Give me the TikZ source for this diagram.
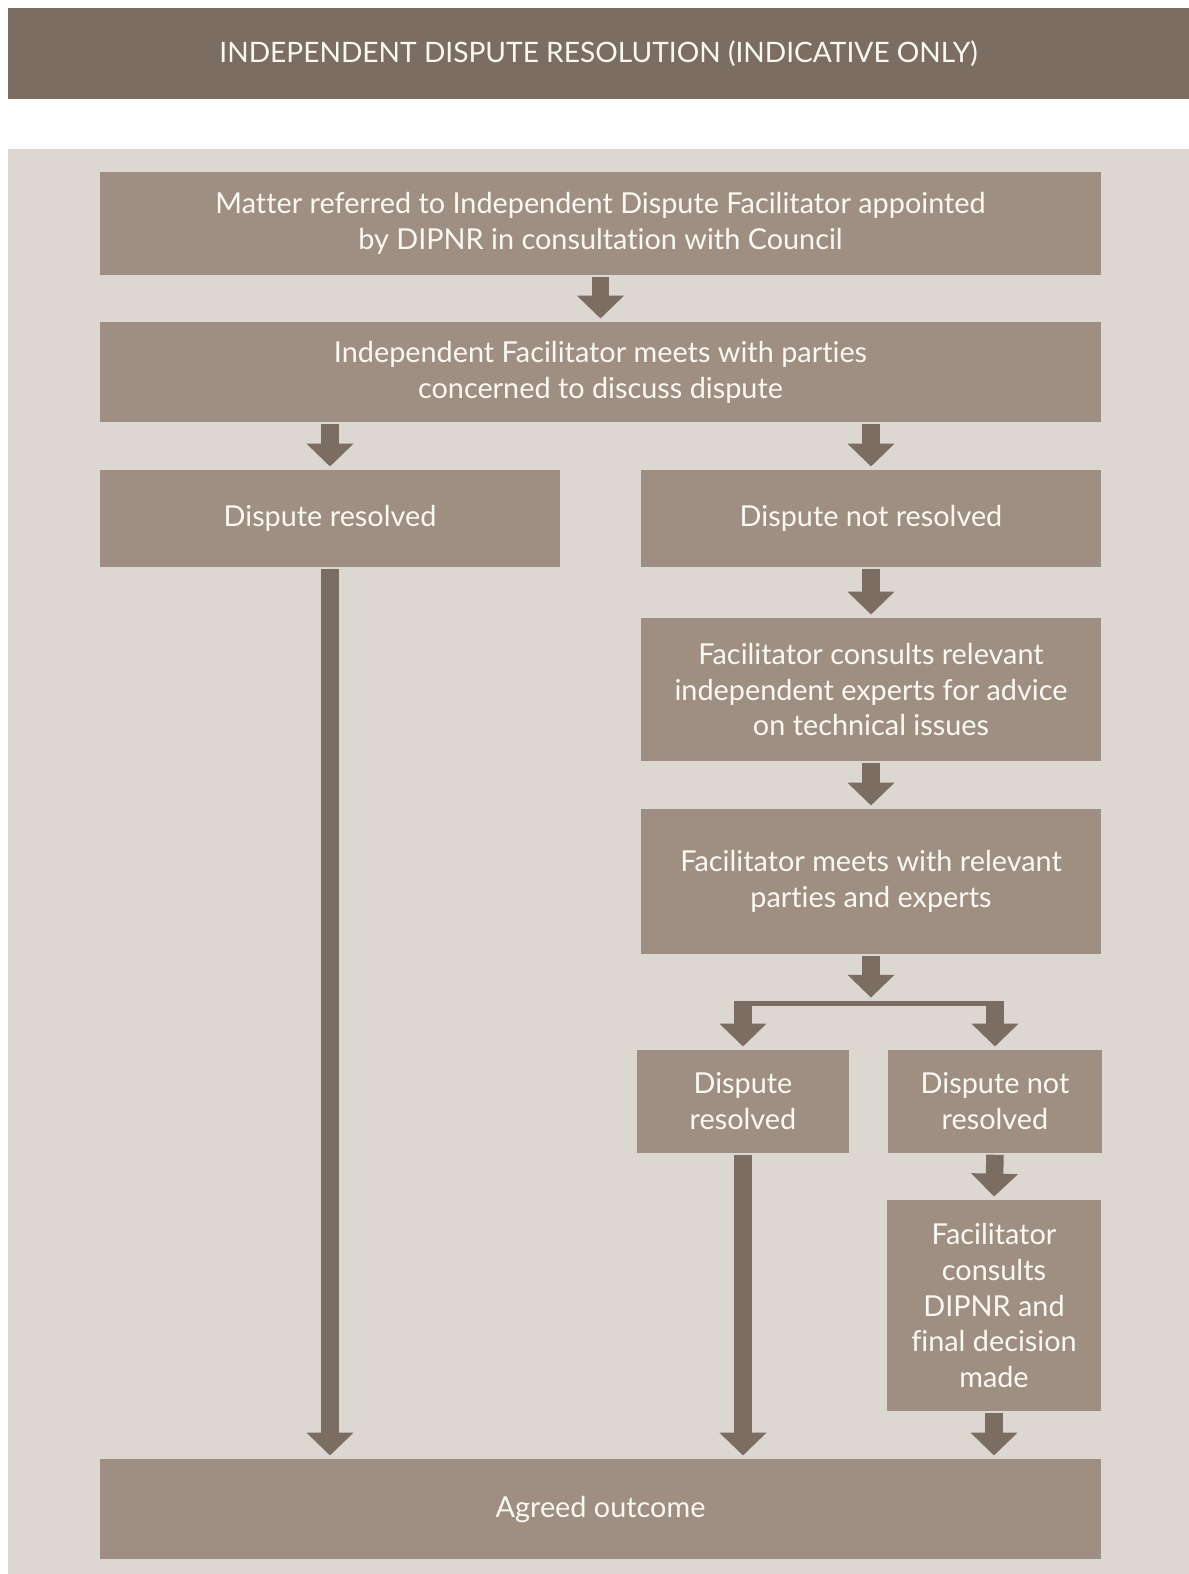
\documentclass[tikz,border=0pt]{standalone}
\usepackage{fontspec}
\setmainfont{Lato}[Ligatures={NoCommon}]
\usepackage{tikz}
\usetikzlibrary{arrows.meta, positioning, calc}
\definecolor{idrdark}{HTML}{7B6D61}
\definecolor{idrbox}{HTML}{9E8F82}
\definecolor{idrpanel}{HTML}{DCD7D0}
\definecolor{idrtext}{HTML}{FBF8F2}

\begin{document}
\begin{tikzpicture}[
    block/.style={fill=idrbox, text=idrtext, align=center, inner sep=0pt,
                  outer sep=0pt, font=\fontsize{16.4}{20.4}\selectfont},
    arr/.style={-{Triangle[width=26pt, length=13pt]}, line width=10pt,
                idrdark, shorten <=1pt, shorten >=2pt}
  ]
    \useasboundingbox (0,0) rectangle (23.78,-31.48);
    \fill[white] (0,0) rectangle (23.78,-31.48);
    \fill[idrpanel] (0.16,-2.98) rectangle (23.78,-31.48);
    \node[fill=idrdark, text=idrtext, inner sep=0pt, minimum width=23.62cm,
          minimum height=1.82cm, font=\fontsize{16}{18}\selectfont] (head)
      at (11.97,-1.07) {INDEPENDENT DISPUTE RESOLUTION (INDICATIVE ONLY)};
    \node[block, minimum width=20.02cm, minimum height=2.06cm] (refer)
      at (12.01,-4.47) {Matter referred to Independent Dispute Facilitator appointed\\
                        by DIPNR in consultation with Council};
    \node[block, minimum width=20.02cm, minimum height=2.0cm] (meet)
      at (12.01,-7.44) {Independent Facilitator meets with parties\\
                        concerned to discuss dispute};
    \node[block, minimum width=9.2cm, minimum height=1.94cm] (resA)
      at (6.6,-10.37) {Dispute resolved};
    \node[block, minimum width=9.2cm, minimum height=1.94cm] (unresA)
      at (17.42,-10.37) {Dispute not resolved};
    \node[block, minimum width=9.2cm, minimum height=2.86cm] (experts)
      at (17.42,-13.79) {Facilitator consults relevant\\
                         independent experts for advice\\on technical issues};
    \node[block, minimum width=9.2cm, minimum height=2.9cm] (meetB)
      at (17.42,-17.63) {Facilitator meets with relevant\\parties and experts};
    \node[block, minimum width=4.24cm, minimum height=2.06cm] (resB)
      at (14.86,-22.03) {Dispute\\resolved};
    \node[block, minimum width=4.28cm, minimum height=2.06cm] (unresB)
      at (19.9,-22.03) {Dispute not\\resolved};
    \node[block, minimum width=4.28cm, minimum height=4.22cm] (decide)
      at (19.88,-26.11) {Facilitator\\consults\\DIPNR and\\final decision\\made};
    \node[block, minimum width=20.02cm, minimum height=2.0cm] (outcome)
      at (12.01,-30.18) {Agreed outcome};
    \coordinate (split) at ($(meetB.south)+(0,-0.995)$);
    \draw[arr] (refer.south) -- (meet.north);
    \draw[arr] (resA.north |- meet.south) -- (resA.north);
    \draw[arr] (unresA.north |- meet.south) -- (unresA.north);
    \draw[arr] (unresA.south) -- (experts.north);
    \draw[arr] (experts.south) -- (meetB.north);
    \draw[arr, shorten >=3.5pt] (meetB.south) -- (split);
    \draw[idrdark, line width=2.8pt, shorten <=-5pt, shorten >=-5pt]
      (resB.north |- split) -- (unresB.north |- split);
    \draw[arr, shorten <=0pt] (resB.north |- split) -- (resB.north);
    \draw[arr, shorten <=0pt] (unresB.north |- split) -- (unresB.north);
    \draw[arr] (unresB.south) -- (decide.north);
    \draw[arr] (resA.south) -- (resA.south |- outcome.north);
    \draw[arr] (resB.south) -- (resB.south |- outcome.north);
    \draw[arr] (decide.south) -- (outcome.north -| decide.south);
  \end{tikzpicture}
\end{document}
